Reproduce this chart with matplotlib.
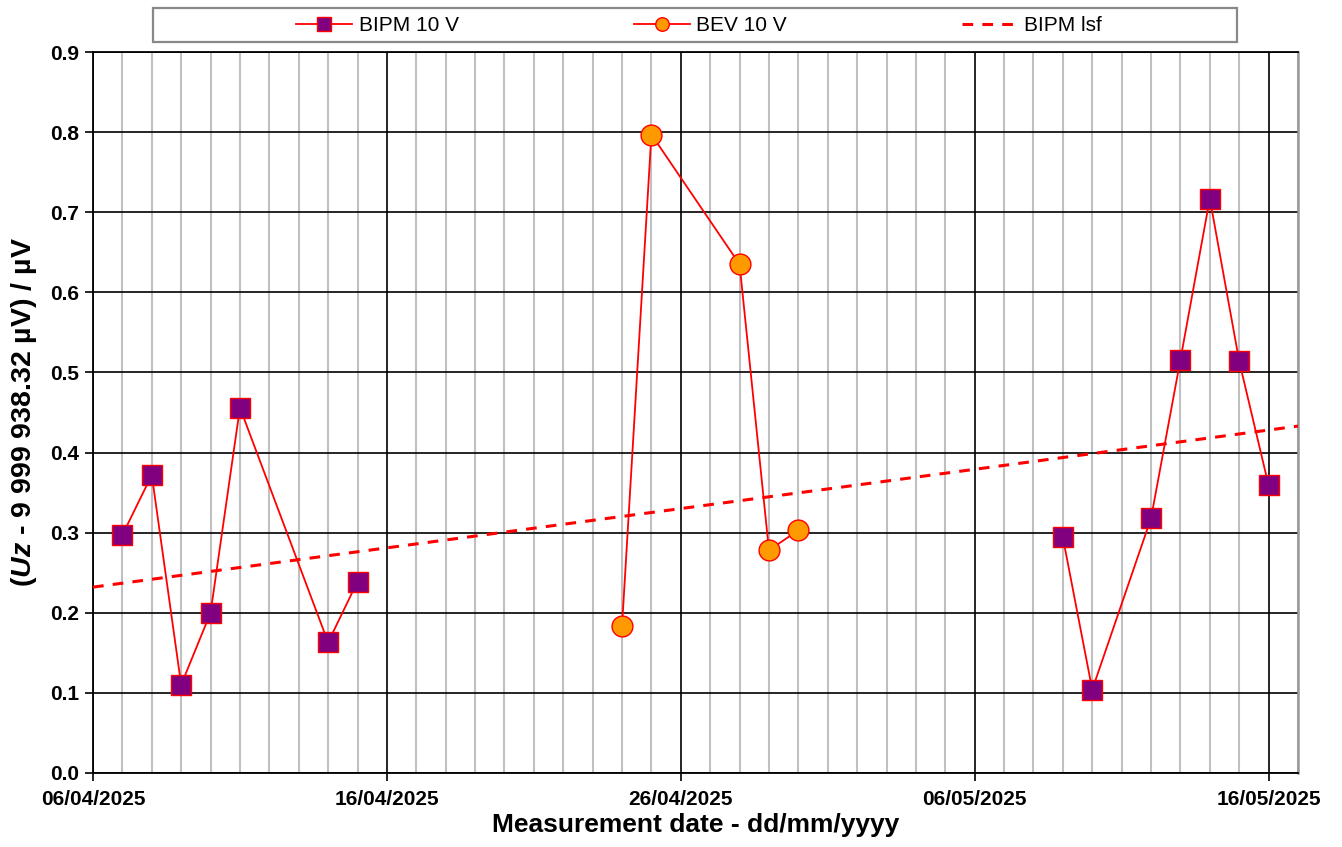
import datetime as dt
import numpy as np
import matplotlib
matplotlib.use('Agg')
import matplotlib.pyplot as plt
import matplotlib.dates as mdates
from matplotlib.patches import Rectangle

plt.rcParams['font.family'] = ['Liberation Sans', 'DejaVu Sans']
plt.rcParams['mathtext.fontset'] = 'custom'
plt.rcParams['mathtext.it'] = 'Liberation Sans:italic:bold'
plt.rcParams['mathtext.rm'] = 'Liberation Sans:bold'

# BIPM measurements (None / NaN splits the two campaigns)
bipm_dates = ['2025-04-07', '2025-04-08', '2025-04-09', '2025-04-10', '2025-04-11',
              '2025-04-14', '2025-04-15', None,
              '2025-05-09', '2025-05-10', '2025-05-12', '2025-05-13', '2025-05-14',
              '2025-05-15', '2025-05-16']
bipm_vals = [0.297, 0.372, 0.110, 0.200, 0.456, 0.163, 0.239, np.nan,
             0.294, 0.104, 0.318, 0.516, 0.717, 0.514, 0.359]

bev_dates = ['2025-04-24', '2025-04-25', '2025-04-28', '2025-04-29', '2025-04-30']
bev_vals = [0.183, 0.797, 0.635, 0.278, 0.303]

# least squares line, values at the axis ends
lsf_dates = ['2025-04-06', '2025-05-17']
lsf_vals = [0.232, 0.433]

x_start = dt.datetime(2025, 4, 6)
x_end = dt.datetime(2025, 5, 17)


def to_dt(lst):
    out = []
    for s in lst:
        if s is None:
            out.append(dt.datetime(2025, 4, 20))
        else:
            out.append(dt.datetime.strptime(s, '%Y-%m-%d'))
    return out


fig = plt.figure(figsize=(13.42, 8.47), dpi=100)
ax = fig.add_axes([0.0693, 0.0874, 0.9672 - 0.0693, 0.9386 - 0.0874])

red = '#FF0000'
ax.plot(to_dt(bipm_dates), bipm_vals, color=red, lw=1.3, marker='s', ms=15,
        mfc='#800080', mec=red, mew=1.0, label='BIPM 10 V', zorder=4)
ax.plot(to_dt(bev_dates), bev_vals, color=red, lw=1.3, marker='o', ms=15,
        mfc='#FF9900', mec=red, mew=1.0, label='BEV 10 V', zorder=4)
ax.plot(to_dt(lsf_dates), lsf_vals, color=red, lw=2.2, ls=(0, (3.5, 3.0)),
        label='BIPM lsf', zorder=3)

ax.set_xlim(x_start, x_end)
ax.set_ylim(0, 0.9)

major = [x_start + dt.timedelta(days=10 * k) for k in range(5)]
ax.xaxis.set_major_locator(matplotlib.ticker.FixedLocator(mdates.date2num(major)))
ax.xaxis.set_minor_locator(mdates.DayLocator())
ax.xaxis.set_major_formatter(mdates.DateFormatter('%d/%m/%Y'))
ax.set_yticks(np.arange(0, 0.91, 0.1))
ax.yaxis.set_major_formatter(matplotlib.ticker.FormatStrFormatter('%.1f'))

ax.grid(which='minor', axis='x', color='#C0C0C0', lw=1.5, zorder=1)
ax.grid(which='major', axis='x', color='black', lw=1.2, zorder=2)
ax.grid(which='major', axis='y', color='black', lw=1.2, zorder=2)
ax.set_axisbelow(True)

ax.tick_params(which='major', direction='out', length=6, width=1.2,
               labelsize=15, pad=4)
ax.tick_params(axis='x', which='major', pad=6)
ax.tick_params(which='minor', length=0)
for lab in ax.get_xticklabels() + ax.get_yticklabels():
    lab.set_fontweight('bold')

for s in ['left', 'bottom', 'top']:
    ax.spines[s].set_color('black')
    ax.spines[s].set_linewidth(1.3)
ax.spines['right'].set_color('#999999')
ax.spines['right'].set_linewidth(1.8)

ax.set_xlabel('Measurement date - dd/mm/yyyy', fontsize=19, fontweight='bold',
              labelpad=3)
ax.set_ylabel(r'($Uz$ - 9 999 938.32 µV) / µV', fontsize=20.5, fontweight='bold',
              labelpad=8)

fig.patches.append(Rectangle((153 / 1342, 1 - 42 / 847), (1237 - 153) / 1342,
                             34 / 847, transform=fig.transFigure,
                             facecolor='white', edgecolor='#888888', lw=1.6))
fig.legend(loc='center', bbox_to_anchor=(0.521, 0.970), ncol=3, frameon=False,
           fontsize=15, handlelength=2.7, handletextpad=0.3, columnspacing=8.4,
           markerscale=0.65)

fig.savefig('out.png', dpi=100)
